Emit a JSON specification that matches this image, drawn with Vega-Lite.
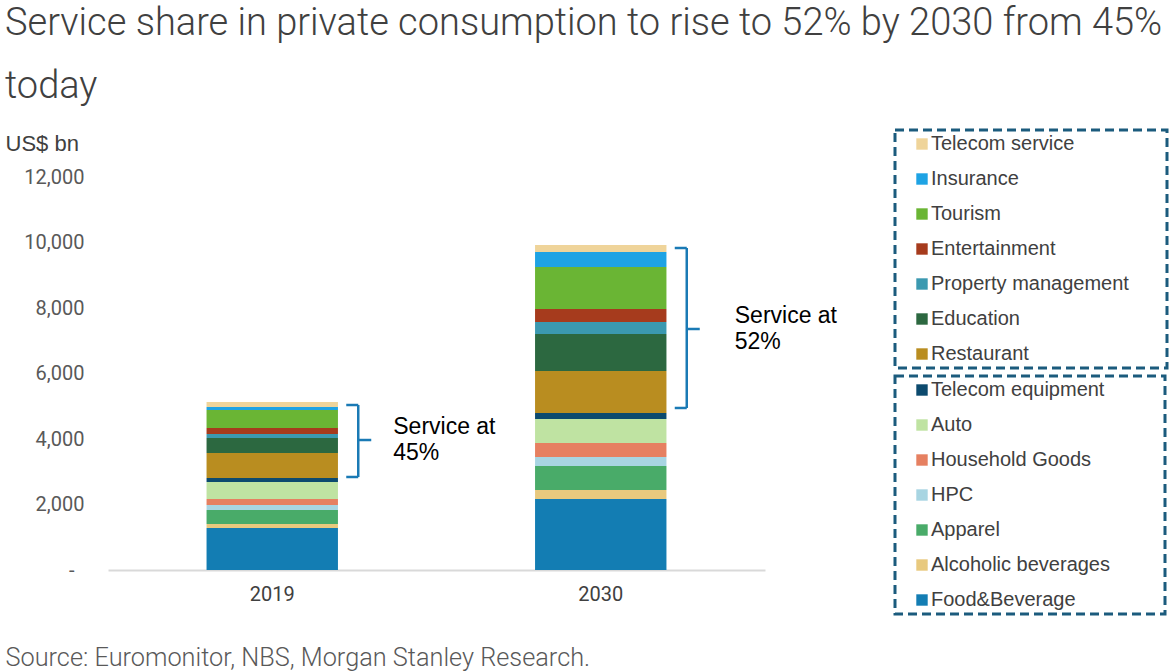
{
  "$schema": "https://vega.github.io/schema/vega-lite/v6.json",
  "width": 657,
  "height": 393,
  "autosize": {"type": "none"},
  "padding": {"left": 108, "top": 177, "right": 406, "bottom": 102},
  "background": "white",
  "config": {
    "view": {"stroke": null},
    "font": "Roboto",
    "axis": {"grid": false, "ticks": false},
    "axisY": {"domain": false},
    "legend": {"labelFont": "Liberation Sans"}
  },
  "title": {
    "text": ["Service share in private consumption to rise to 52% by 2030 from 45%", "today"],
    "anchor": "start",
    "frame": "group",
    "font": "Roboto",
    "fontWeight": 300,
    "fontSize": 38,
    "lineHeight": 63,
    "color": "#404040",
    "dx": -103,
    "offset": 23
  },
  "datasets": {
    "spend": [
      {"year": "2019", "category": "Food&Beverage", "group": "Goods", "order": 1, "value": 1282},
      {"year": "2019", "category": "Alcoholic beverages", "group": "Goods", "order": 2, "value": 122},
      {"year": "2019", "category": "Apparel", "group": "Goods", "order": 3, "value": 428},
      {"year": "2019", "category": "HPC", "group": "Goods", "order": 4, "value": 153},
      {"year": "2019", "category": "Household Goods", "group": "Goods", "order": 5, "value": 183},
      {"year": "2019", "category": "Auto", "group": "Goods", "order": 6, "value": 519},
      {"year": "2019", "category": "Telecom equipment", "group": "Goods", "order": 7, "value": 122},
      {"year": "2019", "category": "Restaurant", "group": "Service", "order": 8, "value": 763},
      {"year": "2019", "category": "Education", "group": "Service", "order": 9, "value": 458},
      {"year": "2019", "category": "Property management", "group": "Service", "order": 10, "value": 122},
      {"year": "2019", "category": "Entertainment", "group": "Service", "order": 11, "value": 184},
      {"year": "2019", "category": "Tourism", "group": "Service", "order": 12, "value": 549},
      {"year": "2019", "category": "Insurance", "group": "Service", "order": 13, "value": 92},
      {"year": "2019", "category": "Telecom service", "group": "Service", "order": 14, "value": 153},
      {"year": "2030", "category": "Food&Beverage", "group": "Goods", "order": 1, "value": 2168},
      {"year": "2030", "category": "Alcoholic beverages", "group": "Goods", "order": 2, "value": 274},
      {"year": "2030", "category": "Apparel", "group": "Goods", "order": 3, "value": 733},
      {"year": "2030", "category": "HPC", "group": "Goods", "order": 4, "value": 275},
      {"year": "2030", "category": "Household Goods", "group": "Goods", "order": 5, "value": 427},
      {"year": "2030", "category": "Auto", "group": "Goods", "order": 6, "value": 733},
      {"year": "2030", "category": "Telecom equipment", "group": "Goods", "order": 7, "value": 183},
      {"year": "2030", "category": "Restaurant", "group": "Service", "order": 8, "value": 1282},
      {"year": "2030", "category": "Education", "group": "Service", "order": 9, "value": 1130},
      {"year": "2030", "category": "Property management", "group": "Service", "order": 10, "value": 366},
      {"year": "2030", "category": "Entertainment", "group": "Service", "order": 11, "value": 397},
      {"year": "2030", "category": "Tourism", "group": "Service", "order": 12, "value": 1283},
      {"year": "2030", "category": "Insurance", "group": "Service", "order": 13, "value": 458},
      {"year": "2030", "category": "Telecom service", "group": "Service", "order": 14, "value": 213}
    ],
    "braces": [
      {"year": "2019", "lo": 2840, "hi": 5038, "mid": 3969, "label": "Service at\n45%"},
      {"year": "2030", "lo": 4947, "hi": 9832, "mid": 7359, "label": "Service at\n52%"}
    ]
  },
  "encoding": {
    "x": {
      "field": "year",
      "type": "nominal",
      "scale": {"paddingInner": 0.6, "paddingOuter": 0.3},
      "axis": {
        "labelAngle": 0,
        "labelPadding": 14,
        "labelFontSize": 20,
        "labelColor": "#404040",
        "labelFont": "Roboto",
        "domainColor": "#d9d9d9",
        "domainWidth": 2,
        "title": "Source: Euromonitor, NBS, Morgan Stanley Research.",
        "titleFont": "Roboto",
        "titleFontWeight": 300,
        "titleFontSize": 25.3,
        "titleColor": "#595959",
        "titleX": -103,
        "titleY": 87,
        "titleAlign": "left",
        "titleBaseline": "middle",
        "titleAnchor": "start"
      }
    }
  },
  "resolve": {"scale": {"color": "independent"}, "legend": {"color": "independent"}},
  "layer": [
    {
      "data": {"name": "spend"},
      "transform": [
        {"stack": "value", "groupby": ["year"], "sort": [{"field": "order", "order": "ascending"}], "as": ["y0", "y1"]},
        {"filter": "datum.group == 'Goods'"}
      ],
      "mark": {"type": "bar"},
      "encoding": {
        "y": {
          "field": "y0",
          "type": "quantitative",
          "scale": {"domain": [0, 12000]},
          "axis": {
            "values": [0, 2000, 4000, 6000, 8000, 10000, 12000],
            "format": ",d",
            "labelExpr": "datum.value == 0 ? '-\u00a0\u00a0\u200b' : datum.label",
            "labelPadding": 24,
            "labelFontSize": 20,
            "labelColor": "#595959",
            "labelFont": "Roboto",
            "title": "US$ bn",
            "titleFont": "Liberation Sans",
            "titleFontSize": 22,
            "titleFontWeight": "normal",
            "titleColor": "#404040",
            "titleAngle": 0,
            "titleX": -103,
            "titleY": -34,
            "titleAlign": "left",
            "titleBaseline": "middle"
          }
        },
        "y2": {"field": "y1"},
        "color": {
          "field": "category",
          "type": "nominal",
          "scale": {
            "domain": ["Telecom equipment", "Auto", "Household Goods", "HPC", "Apparel", "Alcoholic beverages", "Food&Beverage"],
            "range": ["#0c4a6e", "#bfe3a2", "#e68061", "#a8d5e2", "#49ab69", "#e8c97e", "#137db3"]
          },
          "legend": {
            "title": null,
            "orient": "none",
            "legendX": 787,
            "legendY": 199,
            "symbolType": "square",
            "symbolSize": 130,
            "symbolStrokeWidth": 0,
            "symbolOpacity": 1,
            "symbolOffset": 13,
            "labelOffset": -1,
            "labelFont": "Liberation Sans",
            "labelFontSize": 20,
            "labelColor": "#404040",
            "labelLimit": 400,
            "labelExpr": "datum.label + '\u00a0\u00a0\u00a0\u00a0\u00a0\u00a0\u00a0\u00a0\u00a0\u200b'",
            "rowPadding": 15,
            "padding": 4,
            "strokeColor": "#1b5b7d",
            "encode": {"legend": {"update": {"strokeDash": {"value": [9, 5]}, "strokeWidth": {"value": 3}, "stroke": {"value": "#1b5b7d"}}}}
          }
        }
      }
    },
    {
      "data": {"name": "spend"},
      "transform": [
        {"stack": "value", "groupby": ["year"], "sort": [{"field": "order", "order": "ascending"}], "as": ["y0", "y1"]},
        {"filter": "datum.group == 'Service'"}
      ],
      "mark": {"type": "bar"},
      "encoding": {
        "y": {"field": "y0", "type": "quantitative", "axis": {"title": "US$ bn"}},
        "y2": {"field": "y1"},
        "color": {
          "field": "category",
          "type": "nominal",
          "scale": {
            "domain": ["Telecom service", "Insurance", "Tourism", "Entertainment", "Property management", "Education", "Restaurant"],
            "range": ["#efd49a", "#1ea3e4", "#6ab534", "#a63b1d", "#3b99b0", "#2c6840", "#b98d20"]
          },
          "legend": {
            "title": null,
            "orient": "none",
            "legendX": 787,
            "legendY": -47,
            "symbolType": "square",
            "symbolSize": 130,
            "symbolStrokeWidth": 0,
            "symbolOpacity": 1,
            "symbolOffset": 13,
            "labelOffset": -1,
            "labelFont": "Liberation Sans",
            "labelFontSize": 20,
            "labelColor": "#404040",
            "labelLimit": 400,
            "labelExpr": "datum.label + '\u00a0\u00a0\u00a0\u00a0\u00a0\u00a0\u200b'",
            "rowPadding": 15,
            "padding": 4,
            "strokeColor": "#1b5b7d",
            "encode": {"legend": {"update": {"strokeDash": {"value": [9, 5]}, "strokeWidth": {"value": 3}, "stroke": {"value": "#1b5b7d"}}}}
          }
        }
      }
    },
    {
      "data": {"name": "braces"},
      "mark": {"type": "rule", "xOffset": 86, "color": "#1a7ab5", "strokeWidth": 2.5},
      "encoding": {
        "y": {"field": "lo", "type": "quantitative", "axis": {"title": "US$ bn"}},
        "y2": {"field": "hi"}
      }
    },
    {
      "data": {"name": "braces"},
      "mark": {"type": "rule", "xOffset": 74, "x2Offset": 86, "color": "#1a7ab5", "strokeWidth": 2.5},
      "encoding": {
        "x2": {"field": "year"},
        "y": {"field": "hi", "type": "quantitative", "axis": {"title": "US$ bn"}}
      }
    },
    {
      "data": {"name": "braces"},
      "mark": {"type": "rule", "xOffset": 74, "x2Offset": 86, "color": "#1a7ab5", "strokeWidth": 2.5},
      "encoding": {
        "x2": {"field": "year"},
        "y": {"field": "lo", "type": "quantitative", "axis": {"title": "US$ bn"}}
      }
    },
    {
      "data": {"name": "braces"},
      "mark": {"type": "rule", "xOffset": 86, "x2Offset": 99, "color": "#1a7ab5", "strokeWidth": 2.5},
      "encoding": {
        "x2": {"field": "year"},
        "y": {"field": "mid", "type": "quantitative", "axis": {"title": "US$ bn"}}
      }
    },
    {
      "data": {"name": "braces"},
      "transform": [{"filter": "datum.year == '2019'"}],
      "mark": {"type": "text", "xOffset": 121, "dy": -13, "align": "left", "baseline": "middle", "font": "Liberation Sans", "fontSize": 23, "lineHeight": 26, "lineBreak": "\n", "color": "#000000"},
      "encoding": {
        "y": {"field": "mid", "type": "quantitative", "axis": {"title": "US$ bn"}},
        "text": {"field": "label"}
      }
    },
    {
      "data": {"name": "braces"},
      "transform": [{"filter": "datum.year == '2030'"}],
      "mark": {"type": "text", "xOffset": 134, "dy": -13, "align": "left", "baseline": "middle", "font": "Liberation Sans", "fontSize": 23, "lineHeight": 26, "lineBreak": "\n", "color": "#000000"},
      "encoding": {
        "y": {"field": "mid", "type": "quantitative", "axis": {"title": "US$ bn"}},
        "text": {"field": "label"}
      }
    }
  ]
}
